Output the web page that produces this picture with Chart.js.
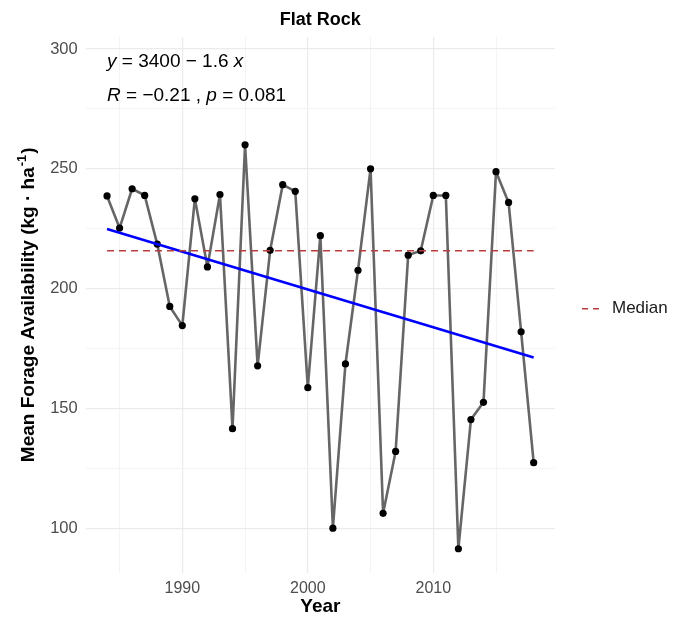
<!DOCTYPE html>
<html>
<head>
<meta charset="utf-8">
<script src="https://cdn.jsdelivr.net/npm/chart.js@4/dist/chart.umd.min.js"></script>
<style>
    html, body { margin: 0; padding: 0; background: #ffffff; }
    #wrap { width: 684px; height: 618px; position: relative; }
</style>
</head>
<body>
<div id="wrap"><canvas id="forageChart"></canvas></div>
<script>
// Data
const years = [1984, 1985, 1986, 1987, 1988, 1989, 1990, 1991, 1992, 1993,
               1994, 1995, 1996, 1997, 1998, 1999, 2000, 2001, 2002, 2003,
               2004, 2005, 2006, 2007, 2008, 2009, 2010, 2011, 2012, 2013,
               2014, 2015, 2016, 2017, 2018];
const forage = [238.7, 225.3, 241.7, 238.9, 218.6, 192.6, 184.6, 237.5, 209.1, 239.3,
                141.6, 260.0, 167.8, 216.0, 243.4, 240.6, 158.7, 222.1, 100.1, 168.6,
                207.7, 250.0, 106.3, 132.1, 214.0, 215.8, 238.9, 238.9, 91.5, 145.4,
                152.6, 248.8, 236.0, 182.0, 127.4];
const xTicks = [1985, 1990, 1995, 2000, 2005, 2010, 2015];
const xLabels = [1990, 2000, 2010];
const yTicks = [100, 125, 150, 175, 200, 225, 250, 275, 300];
const yLabels = [100, 150, 200, 250, 300];
const medianLabel = 'Median';

const FONT = '"Liberation Sans", Arial, sans-serif';

// median of the series
function median(arr) {
    const s = arr.slice().sort((a, b) => a - b);
    const m = Math.floor(s.length / 2);
    return s.length % 2 ? s[m] : (s[m - 1] + s[m]) / 2;
}

// least squares fit, drawn at the first and last year
function linearFit(xs, ys) {
    const n = xs.length;
    const mx = xs.reduce((a, b) => a + b, 0) / n;
    const my = ys.reduce((a, b) => a + b, 0) / n;
    let sxy = 0, sxx = 0;
    for (let i = 0; i < n; i++) {
        sxy += (xs[i] - mx) * (ys[i] - my);
        sxx += (xs[i] - mx) * (xs[i] - mx);
    }
    const b = sxy / sxx;
    return { a: my - b * mx, b: b };
}

const med = median(forage);
const fit = linearFit(years, forage);
const x0 = years[0], x1 = years[years.length - 1];

const seriesPoints = years.map((y, i) => ({ x: y, y: forage[i] }));
const fitPoints = [{ x: x0, y: fit.a + fit.b * x0 }, { x: x1, y: fit.a + fit.b * x1 }];
const medianPoints = [{ x: x0, y: med }, { x: x1, y: med }];

// draws a run of text pieces, some in italics
function drawRuns(ctx, runs, x, y, size, weight) {
    let cx = x;
    runs.forEach(r => {
        ctx.font = `${r.i ? 'italic ' : ''}${weight} ${size}px ${FONT}`;
        ctx.fillText(r.t, cx, y);
        cx += ctx.measureText(r.t).width;
    });
}

const textPlugin = {
    id: 'textPlugin',
    afterDraw(chart) {
        const { ctx, chartArea, scales } = chart;
        const midX = (chartArea.left + chartArea.right) / 2;
        const midY = (chartArea.top + chartArea.bottom) / 2;
        ctx.save();
        ctx.fillStyle = '#000000';
        ctx.textBaseline = 'middle';

        // title
        ctx.textAlign = 'center';
        ctx.font = `bold 18px ${FONT}`;
        ctx.fillText('Flat Rock', midX, 20);

        // x axis title
        ctx.font = `bold 19px ${FONT}`;
        ctx.fillText('Year', midX, 607);

        // y axis title with superscript
        ctx.save();
        ctx.translate(29, midY);
        ctx.rotate(-Math.PI / 2);
        ctx.textAlign = 'left';
        const main = 'Mean Forage Availability (kg \u00b7 ha';
        ctx.font = `bold 19px ${FONT}`;
        const w1 = ctx.measureText(main).width;
        const w3 = ctx.measureText(')').width;
        ctx.font = `bold 13px ${FONT}`;
        const w2 = ctx.measureText('-1').width + 2;
        let sx = -(w1 + w2 + w3) / 2;
        ctx.font = `bold 19px ${FONT}`;
        ctx.fillText(main, sx, 0);
        ctx.font = `bold 13px ${FONT}`;
        ctx.fillText('-1', sx + w1 + 1, -7);
        ctx.font = `bold 19px ${FONT}`;
        ctx.fillText(')', sx + w1 + w2, 0);
        ctx.restore();

        // regression annotation
        ctx.textAlign = 'left';
        const ax = scales.x.getPixelForValue(1984);
        drawRuns(ctx, [{ t: 'y', i: true }, { t: ' = 3400 \u2212 1.6 ' }, { t: 'x', i: true }],
                 ax, scales.y.getPixelForValue(294.6), 19, 'normal');
        drawRuns(ctx, [{ t: 'R', i: true }, { t: ' = \u22120.21 , ' }, { t: 'p', i: true }, { t: ' = 0.081' }],
                 ax, scales.y.getPixelForValue(280.4), 19, 'normal');

        // legend
        const ly = midY + 4;
        ctx.strokeStyle = '#b83c3c';
        ctx.lineWidth = 1.6;
        ctx.setLineDash([6, 5]);
        ctx.beginPath();
        ctx.moveTo(582, ly);
        ctx.lineTo(599, ly);
        ctx.stroke();
        ctx.setLineDash([]);
        ctx.fillStyle = '#1a1a1a';
        ctx.font = `17px ${FONT}`;
        ctx.fillText(medianLabel, 612, ly);
        ctx.restore();
    }
};

const ctx = document.getElementById('forageChart').getContext('2d');
new Chart(ctx, {
    type: 'line',
    data: {
        datasets: [
            {
                label: medianLabel,
                data: medianPoints,
                borderColor: '#b83c3c',
                borderWidth: 1.6,
                borderDash: [7, 5],
                pointRadius: 0,
                order: 1
            },
            {
                label: 'Fit',
                data: fitPoints,
                borderColor: '#0000ff',
                borderWidth: 2.6,
                pointRadius: 0,
                order: 2
            },
            {
                label: 'Forage',
                data: seriesPoints,
                borderColor: '#666666',
                borderWidth: 2.6,
                borderJoinStyle: 'round',
                borderCapStyle: 'round',
                pointRadius: 3.6,
                pointBackgroundColor: '#000000',
                pointBorderWidth: 0,
                tension: 0,
                order: 3
            }
        ]
    },
    options: {
        responsive: true,
        maintainAspectRatio: false,
        animation: false,
        layout: { padding: { top: 37, right: 129, left: 0, bottom: 0 } },
        plugins: {
            legend: { display: false },
            tooltip: { enabled: false }
        },
        scales: {
            x: {
                type: 'linear',
                min: 1982.3,
                max: 2019.7,
                afterBuildTicks: scale => { scale.ticks = xTicks.map(v => ({ value: v })); },
                afterFit: scale => { scale.height = 45.5; },
                border: { display: false },
                grid: {
                    drawTicks: false,
                    color: c => xLabels.includes(c.tick.value) ? '#ebebeb' : '#f4f4f4',
                    lineWidth: c => xLabels.includes(c.tick.value) ? 1.2 : 1
                },
                ticks: {
                    color: '#4d4d4d',
                    padding: 6,
                    maxRotation: 0,
                    autoSkip: false,
                    font: { family: FONT, size: 16 },
                    callback: v => xLabels.includes(v) ? String(v) : ''
                }
            },
            y: {
                min: 81.6,
                max: 305,
                afterBuildTicks: scale => { scale.ticks = yTicks.map(v => ({ value: v })); },
                afterFit: scale => { scale.width = 85.7; },
                border: { display: false },
                grid: {
                    drawTicks: false,
                    color: c => yLabels.includes(c.tick.value) ? '#ebebeb' : '#f4f4f4',
                    lineWidth: c => yLabels.includes(c.tick.value) ? 1.2 : 1
                },
                ticks: {
                    color: '#4d4d4d',
                    padding: 8,
                    autoSkip: false,
                    font: { family: FONT, size: 16.5 },
                    callback: v => yLabels.includes(v) ? String(v) : ''
                }
            }
        }
    },
    plugins: [textPlugin]
});
</script>
</body>
</html>
